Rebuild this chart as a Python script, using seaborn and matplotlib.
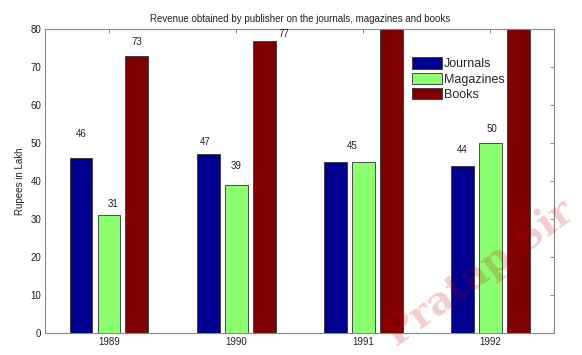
import pandas as pd
import seaborn as sns
import matplotlib.pyplot as plt

years = ["1989", "1990", "1991", "1992"]
series = ["Journals", "Magazines", "Books"]
journals = [46, 47, 45, 44]
magazines = [31, 39, 45, 50]
books = [73, 77, 85, 88]  # last two run past the top of the axis
colors = ["#000090", "#8cff70", "#800000"]

# where the value labels sit, relative to the bar top / centre (None = no label)
label_dy = [[6.3, 3.3, 4.3, 4.2], [2.9, 4.9, None, 3.8], [3.6, 1.6, None, None]]
label_dx = [[0, -0.02, 0.13, 0], [0.03, 0, 0, 0.01], [0, 0.155, 0, 0]]


def make_plot():
    df = pd.DataFrame({
        "Year": years * 3,
        "Revenue": journals + magazines + books,
        "Type": [s for s in series for _ in years],
    })

    sns.set_style("white")
    plt.rcParams["font.family"] = ["Liberation Sans", "DejaVu Sans"]

    fig = plt.figure(figsize=(5.82, 3.55), dpi=100)
    ax = fig.add_axes([0.078, 0.062, 0.874, 0.856])

    sns.barplot(data=df, x="Year", y="Revenue", hue="Type", order=years,
                hue_order=series, palette=colors, width=0.66, gap=0.18,
                edgecolor="#333333", linewidth=0.6, saturation=1,
                legend=False, ax=ax)

    ax.set_xlim(-0.5, 3.5)
    ax.set_ylim(0, 80)
    ax.set_yticks(range(0, 81, 10))
    ax.set_xlabel("")
    ax.set_ylabel("Rupees in Lakh", fontsize=7, color="#222222", labelpad=4)
    ax.set_title("Revenue obtained by publisher on the journals, magazines and books",
                 fontsize=7, color="#222222", pad=5)

    for side in ["left", "right", "top", "bottom"]:
        ax.spines[side].set_visible(True)
        ax.spines[side].set_color("#888888")
        ax.spines[side].set_linewidth(0.8)
    ax.tick_params(direction="in", top=True, right=True, length=3,
                   width=0.7, color="#888888", labelsize=7,
                   labelcolor="#222222", pad=3)

    # value labels
    vals = [journals, magazines, books]
    for i, cont in enumerate(ax.containers):
        for j, bar in enumerate(cont):
            if label_dy[i][j] is None:
                continue
            x = bar.get_x() + bar.get_width() / 2 + label_dx[i][j]
            ax.text(x, vals[i][j] + label_dy[i][j], str(vals[i][j]),
                    ha="center", va="center", fontsize=7, color="#222222")

    ax.legend(ax.containers, series, loc="upper left",
              bbox_to_anchor=(0.715, 0.915), fontsize=9,
              handlelength=2.4, handleheight=1.0, labelspacing=0.2,
              handletextpad=0.2, borderpad=0.2, borderaxespad=0,
              frameon=False)

    # faint watermark seen on the source image
    fig.text(0.825, 0.23, "Pratap Sir", rotation=36, fontsize=28,
             family="DejaVu Serif", weight="bold", color="#c00000",
             alpha=0.2, ha="center", va="center", zorder=10)

    fig.savefig("out.png", dpi=100)


if __name__ == "__main__":
    make_plot()
